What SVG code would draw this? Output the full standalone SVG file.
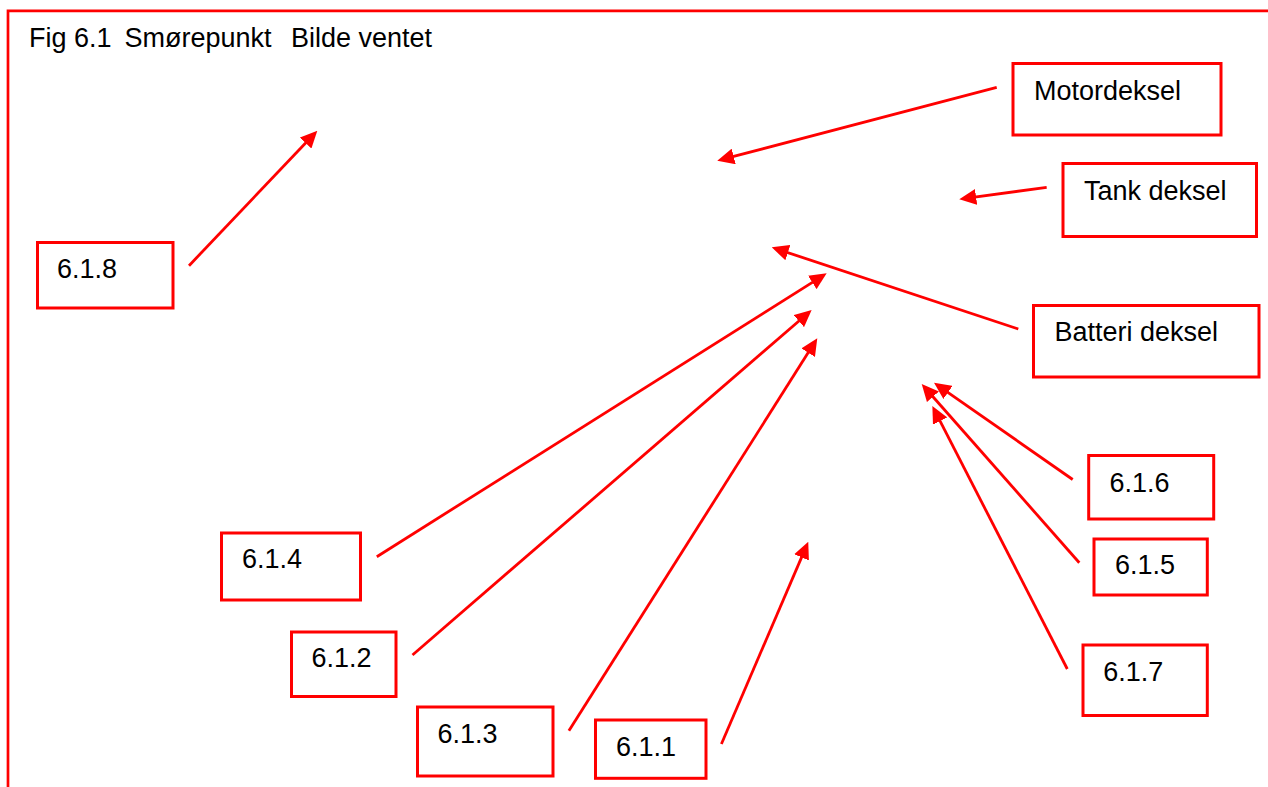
<svg xmlns="http://www.w3.org/2000/svg" width="1268" height="787" viewBox="0 0 1268 787">
<style>
.frame{fill:none;stroke:#ff0000;stroke-width:2.7}
.box{fill:none;stroke:#ff0000;stroke-width:3}
.lbl{font-family:"Liberation Sans",Arial,sans-serif;font-size:27px;fill:#000}
.conn{fill:none;stroke:#ff0000;stroke-width:2.8;marker-end:url(#ah)}
</style>
<defs>
<marker id="ah" markerUnits="userSpaceOnUse" markerWidth="17" markerHeight="16" refX="9" refY="8" orient="auto" viewBox="0 0 17 16">
<path d="M0,0 L17,8 L0,16 z" fill="#ff0000"/>
</marker>
</defs>
<rect width="1268" height="787" fill="#fff"/>
<path class="frame" d="M8,787 L8,10.8 L1268,10.8"/>
<text id="title" class="lbl" y="46.5"><tspan x="29">Fig 6.1</tspan><tspan x="124.5">Smørepunkt</tspan><tspan x="291">Bilde ventet</tspan></text>
<g id="connectors">
<path class="conn" d="M996.7,87.3 L725,158.7"/>
<path class="conn" d="M1046.7,187.3 L967.2,198.2"/>
<path class="conn" d="M1018.3,329 L779.3,249.8"/>
<path class="conn" d="M189,265.7 L311.8,136.5"/>
<path class="conn" d="M376.8,556.7 L819.9,277.6"/>
<path class="conn" d="M412.5,655 L805.6,315.2"/>
<path class="conn" d="M568.9,730.7 L813,345.1"/>
<path class="conn" d="M721.4,744 L805.1,549.1"/>
<path class="conn" d="M1072.7,479.5 L940.6,387.3"/>
<path class="conn" d="M1079.3,562.7 L927,390"/>
<path class="conn" d="M1067.3,669 L936,413.1"/>
</g>
<g id="n-motordeksel"><rect class="box" x="1013" y="63.5" width="208" height="71.5"/><text class="lbl" x="1034" y="100">Motordeksel</text></g>
<g id="n-tankdeksel"><rect class="box" x="1063" y="163.5" width="193.5" height="73"/><text class="lbl" x="1084" y="200">Tank deksel</text></g>
<g id="n-batterideksel"><rect class="box" x="1033.5" y="305.5" width="225.5" height="71.5"/><text class="lbl" x="1054.5" y="340.5">Batteri deksel</text></g>
<g id="n-618"><rect class="box" x="37.5" y="242.5" width="135.5" height="65.5"/><text class="lbl" x="57" y="278.3">6.1.8</text></g>
<g id="n-614"><rect class="box" x="221.5" y="533" width="139" height="67"/><text class="lbl" x="242" y="568.3">6.1.4</text></g>
<g id="n-612"><rect class="box" x="291.5" y="632" width="104.5" height="64.5"/><text class="lbl" x="311.5" y="666.5">6.1.2</text></g>
<g id="n-613"><rect class="box" x="417.5" y="707" width="135.5" height="69"/><text class="lbl" x="437.5" y="742.7">6.1.3</text></g>
<g id="n-611"><rect class="box" x="595.5" y="720" width="110.5" height="58.3"/><text class="lbl" x="616" y="756">6.1.1</text></g>
<g id="n-616"><rect class="box" x="1088.7" y="455.5" width="125" height="63.5"/><text class="lbl" x="1109.5" y="491.7">6.1.6</text></g>
<g id="n-615"><rect class="box" x="1094" y="539" width="113.3" height="56"/><text class="lbl" x="1115" y="574.3">6.1.5</text></g>
<g id="n-617"><rect class="box" x="1083" y="645" width="124.3" height="70.5"/><text class="lbl" x="1103.3" y="681">6.1.7</text></g>
</svg>
